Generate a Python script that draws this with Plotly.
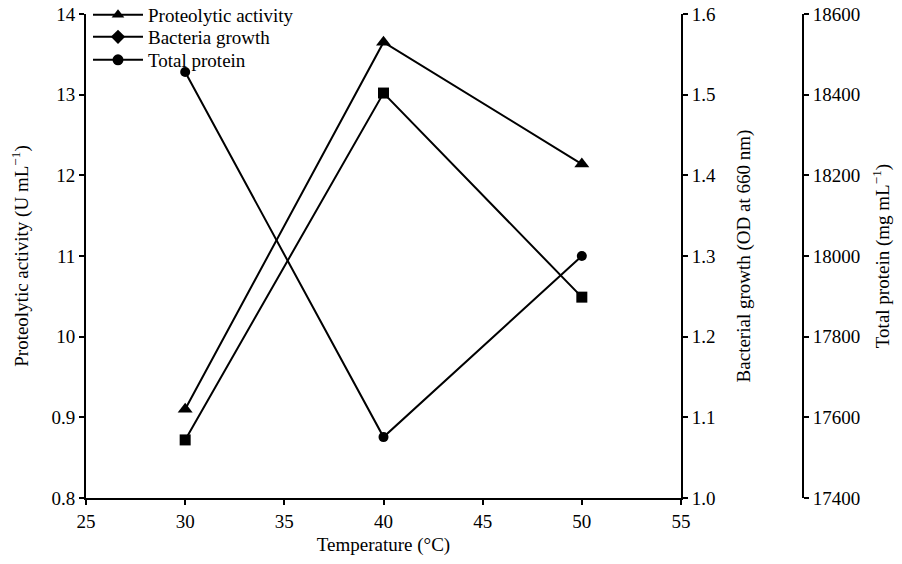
import plotly.graph_objects as go

temperature = [30, 40, 50]
proteolytic_activity = [9.1, 13.65, 12.14]
bacterial_growth = [1.072, 1.502, 1.249]
total_protein = [18456, 17551, 18000]

legend_names = ["Proteolytic activity", "Bacteria growth", "Total protein"]
legend_symbols = ["triangle-up", "diamond", "circle"]

x_ticks = [25, 30, 35, 40, 45, 50, 55]
y1_ticks = [8, 9, 10, 11, 12, 13, 14]
y1_ticktext = ["0.8", "0.9", "10", "11", "12", "13", "14"]
y2_ticks = [1.0, 1.1, 1.2, 1.3, 1.4, 1.5, 1.6]
y2_ticktext = ["1.0", "1.1", "1.2", "1.3", "1.4", "1.5", "1.6"]
y3_ticks = [17400, 17600, 17800, 18000, 18200, 18400, 18600]
y3_ticktext = ["17400", "17600", "17800", "18000", "18200", "18400", "18600"]

FONT = "Liberation Serif"
OFF = 8  # page body margin
W, H = 902 - 2 * OFF, 564 - 2 * OFF
L = 86 - OFF
T = 14 - OFF
B = H - (498 - OFF)
R = 46
paper_w = W - L - R
paper_h = H - T - B
x_end = (681 - 86) / paper_w
y3_pos = (803 - 86) / paper_w

fig = go.Figure()
line = dict(color="black", width=2)

fig.add_trace(go.Scatter(x=temperature, y=proteolytic_activity, mode="lines+markers",
                         line=line, marker=dict(symbol="triangle-up", size=13, color="black"),
                         yaxis="y", showlegend=False))
fig.add_trace(go.Scatter(x=temperature, y=bacterial_growth, mode="lines+markers",
                         line=line, marker=dict(symbol="square", size=11, color="black"),
                         yaxis="y2", showlegend=False))
fig.add_trace(go.Scatter(x=temperature, y=total_protein, mode="lines+markers",
                         line=line, marker=dict(symbol="circle", size=10, color="black"),
                         yaxis="y3", showlegend=False))

legend_ids = ["legend", "legend2", "legend3"]
for name, sym, lid in zip(legend_names, legend_symbols, legend_ids):
    fig.add_trace(go.Scatter(x=[None], y=[None], mode="lines+markers", name=name,
                             line=line, marker=dict(symbol=sym, size=11, color="black"),
                             legend=lid))

axis_common = dict(showline=True, linecolor="black", linewidth=2, ticks="outside",
                   tickcolor="black", tickwidth=2, ticklen=5, showgrid=False, zeroline=False,
                   automargin=False, ticklabeloverflow="allow",
                   tickfont=dict(family=FONT, size=19, color="black"),
                   title_font=dict(family=FONT, size=19, color="black"))

row_centers = [15, 37, 60]  # page pixels
legends = {}
for lid, yc in zip(legend_ids, row_centers):
    legends[lid] = dict(x=2 / paper_w, y=1 - (yc - 14) / paper_h, xanchor="left",
                        yanchor="middle", bgcolor="rgba(0,0,0,0)",
                        font=dict(family=FONT, size=19, color="black"), itemwidth=50)

fig.update_layout(
    width=W, height=H,
    margin=dict(l=L, r=R, t=T, b=B, autoexpand=False),
    paper_bgcolor="white", plot_bgcolor="white",
    font=dict(family=FONT, size=18, color="black"),
    xaxis=dict(domain=[0, x_end], range=[25, 55], tickvals=x_ticks,
               title=dict(text="Temperature (°C)", standoff=10), **axis_common),
    yaxis=dict(range=[8, 14], tickvals=y1_ticks, ticktext=y1_ticktext,
               title=dict(text="Proteolytic activity (U mL<sup>−1</sup>)", standoff=28), **axis_common),
    yaxis2=dict(range=[1.0, 1.6], tickvals=y2_ticks, ticktext=y2_ticktext, overlaying="y",
                side="right", anchor="x",
                title=dict(text="Bacterial growth (OD at 660 nm)", standoff=22), **axis_common),
    yaxis3=dict(range=[17400, 18600], tickvals=y3_ticks, ticktext=y3_ticktext, overlaying="y",
                side="right", anchor="free", position=y3_pos,
                title=dict(text="Total protein (mg mL<sup>−1</sup>)", standoff=16,
                           font=dict(family=FONT, size=18, color="black")), **axis_common),
    **legends,
)

fig.write_html("out.html")
